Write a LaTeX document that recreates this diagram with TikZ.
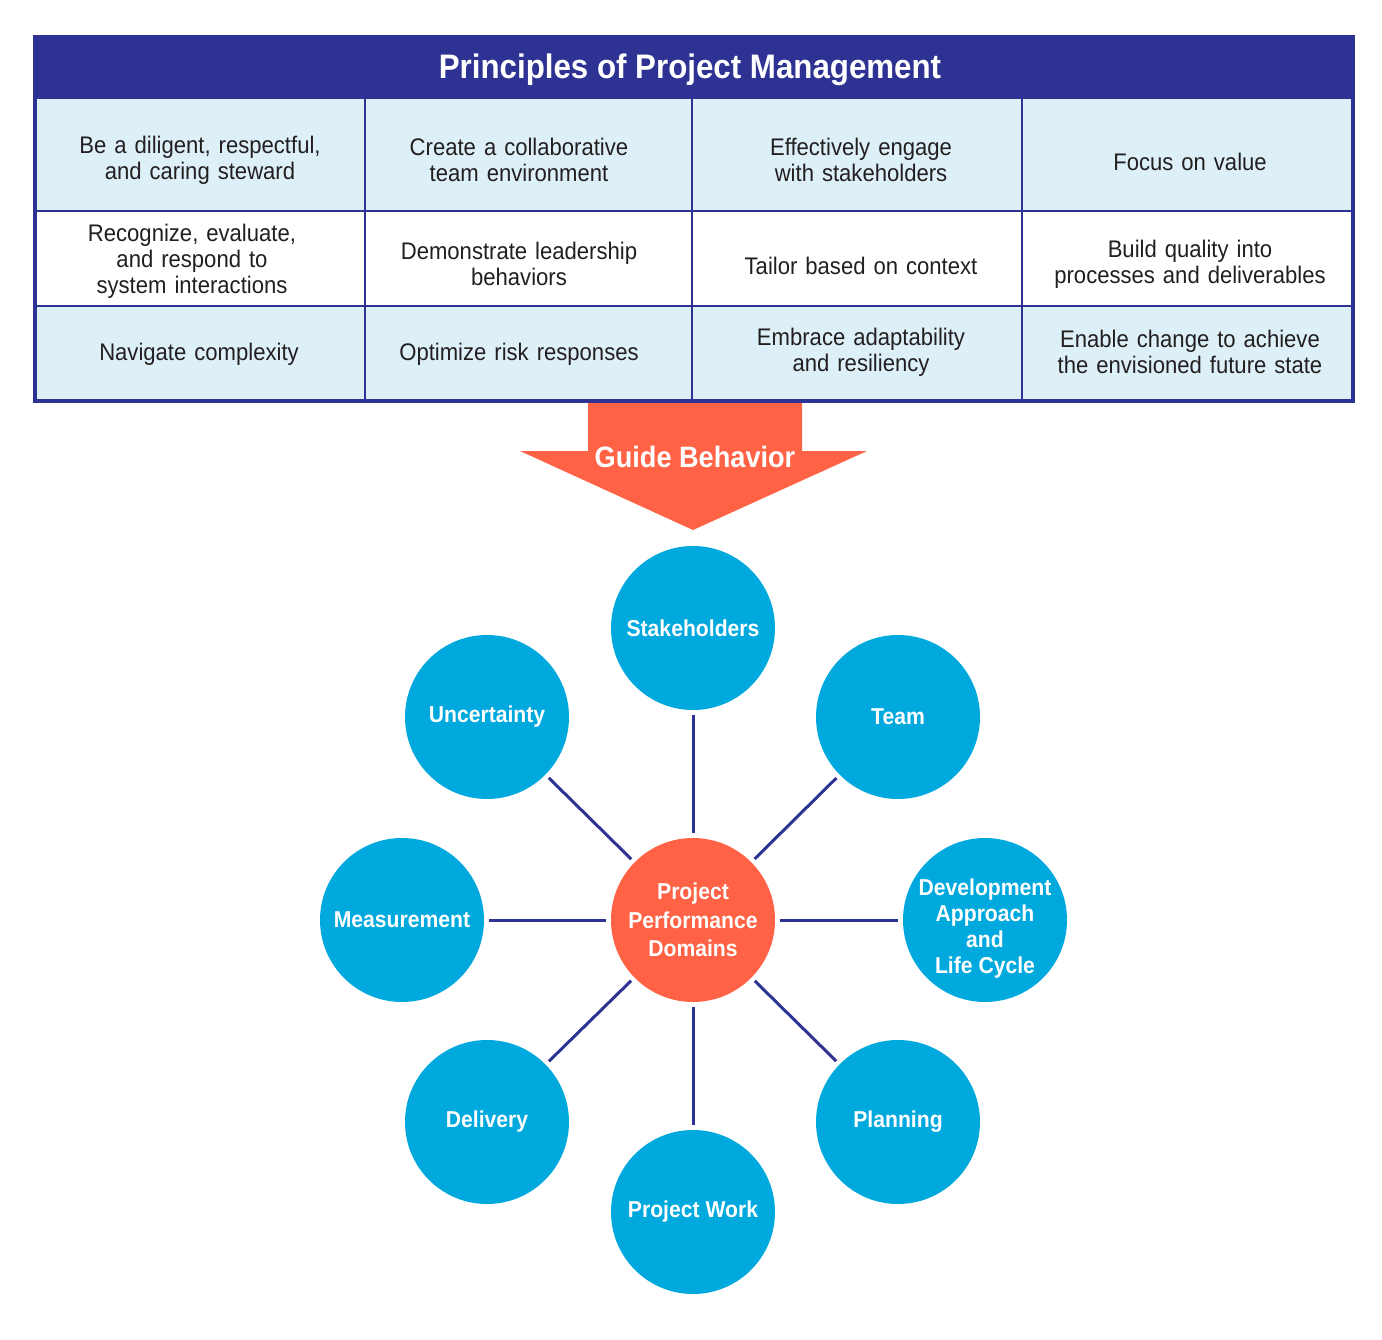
\documentclass[tikz,border=0pt]{standalone}
\usepackage{fontspec}
\setmainfont{Liberation Sans}[FakeStretch=0.92]
\definecolor{navy}{HTML}{2E3393}
\definecolor{lightrow}{HTML}{DDF0F8}
\definecolor{orng}{HTML}{FF6244}
\definecolor{dblue}{HTML}{00A9DD}
\definecolor{ink}{HTML}{231F20}
\tikzset{
  cellbox/.style={text=ink, align=center, text width=300pt, font=\fontsize{24}{26}\selectfont, inner sep=0pt},
  domnode/.style={circle, fill=dblue, minimum size=164pt, inner sep=0pt, text=white, align=center, font=\bfseries\fontsize{23}{26}\selectfont},
  domtext/.style={inner sep=0pt, text=white, align=center, font=\bfseries\fontsize{23}{26}\selectfont},
  hubnode/.style={circle, fill=orng, minimum size=164pt, inner sep=0pt, text=white, align=center, font=\bfseries\fontsize{23}{28.5}\selectfont},
  connline/.style={draw=navy, line width=3pt, shorten <=4.5pt, shorten >=4.5pt},
  gridline/.style={draw=navy, line width=2pt},
}
\begin{document}
\begin{tikzpicture}[x=1pt,y=-1pt]
\useasboundingbox (0,0) rectangle (1382,1340);
% table backgrounds
\fill[lightrow] (35,99) rectangle (1353,211);
\fill[white] (35,211) rectangle (1353,306);
\fill[lightrow] (35,306) rectangle (1353,401);
\fill[navy] (35,37) rectangle (1353,99);
% grid lines
\draw[gridline] (35,211) -- (1353,211);
\draw[gridline] (35,306) -- (1353,306);
\draw[gridline] (365,99) -- (365,401);
\draw[gridline] (692,99) -- (692,401);
\draw[gridline] (1022,99) -- (1022,401);
\draw[navy, line width=4pt] (35,37) rectangle (1353,401);
% title
\node[text=white, font=\bfseries\fontsize{34}{36}\selectfont] (title) at (690,70) {Principles of Project Management};
% cells
\node[cellbox] (c11) at (200,160) {Be a diligent, respectful,\\and caring steward};
\node[cellbox] (c12) at (519,160) {Create a collaborative\\team environment};
\node[cellbox] (c13) at (861,160) {Effectively engage\\with stakeholders};
\node[cellbox] (c14) at (1190,162) {Focus on value};
\node[cellbox] (c21) at (192,261) {Recognize, evaluate,\\and respond to\\system interactions};
\node[cellbox] (c22) at (519,264) {Demonstrate leadership\\behaviors};
\node[cellbox] (c23) at (861,266) {Tailor based on context};
\node[cellbox] (c24) at (1190,264) {Build quality into\\processes and deliverables};
\node[cellbox] (c31) at (199,354) {Navigate complexity};
\node[cellbox] (c32) at (519,354) {Optimize risk responses};
\node[cellbox] (c33) at (861,352) {Embrace adaptability\\and resiliency};
\node[cellbox] (c34) at (1190,352) {Enable change to achieve\\the envisioned future state};
% arrow
\fill[orng] (588,403) -- (802,403) -- (802,451) -- (867,451) -- (693,530) -- (520,451) -- (588,451) -- cycle;
\node[text=white, font=\bfseries\fontsize{29.5}{32}\selectfont] (guide) at (695,457) {Guide Behavior};
% circles
\node[hubnode] (hub) at (693,920) {Project\\Performance\\Domains};
\node[domnode] (stake) at (693,628) {Stakeholders};
\node[domnode] (team) at (898,717) {Team};
\node[domnode] (dev) at (985,920) {};
\node[domtext] (devtext) at (985,929) {Development\\Approach\\and\\Life Cycle};
\node[domnode] (plan) at (898,1122) {Planning};
\node[domnode] (work) at (693,1212) {Project Work};
\node[domnode] (deliv) at (487,1122) {Delivery};
\node[domnode] (meas) at (402,920) {Measurement};
\node[domnode] (unc) at (487,717) {Uncertainty};
% connectors
\foreach \n in {stake,team,dev,plan,work,deliv,meas,unc}
  \draw[connline] (hub) -- (\n);
\end{tikzpicture}
\end{document}
